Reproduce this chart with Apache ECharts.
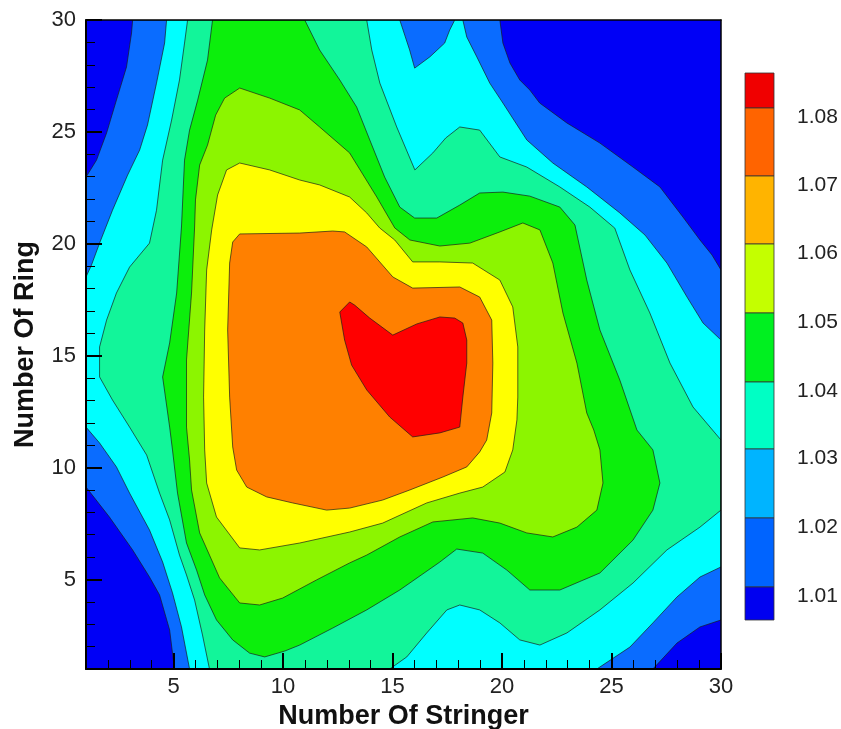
<!DOCTYPE html>
<html>
<head>
<meta charset="utf-8">
<script src="https://cdn.jsdelivr.net/npm/echarts@6/dist/echarts.min.js"></script>
<style>
  html, body { margin: 0; padding: 0; background: #fff; }
  #chart { width: 841px; height: 729px; }
</style>
</head>
<body>
<div id="chart"></div>
<script>
// contour levels, lowest to highest
const levels = [1.01, 1.02, 1.03, 1.04, 1.05, 1.06, 1.07, 1.08]

// region where the value is >= level, as [stringer, ring] outlines
const level101 = [
  [1, 9.13], [1, 22.98], [1.48, 23.74], [1.94, 24.95], [2.39, 26.42], [2.85, 27.9], [3.08, 29.42], [3.13, 30],
  [19.9, 30], [20.04, 28.97], [20.36, 28.08], [20.81, 27.32], [21.27, 26.87], [21.72, 26.29], [22.96, 25.4],
  [24.47, 24.5], [25.98, 23.43], [27.21, 22.54], [28.26, 21.2], [29.04, 20.17], [29.59, 19.5], [30, 18.83],
  [30, 3.19], [29.04, 2.88], [27.99, 2.16], [26.89, 1],
  [5.04, 1], [4.82, 2.74], [4.36, 4.31], [3.9, 5.11], [3.13, 6.32], [2.07, 7.79]
]
const level102 = [
  [1, 11.81], [1, 18.52], [1.25, 19.05], [1.62, 20.03], [2.21, 21.5], [2.9, 23.07], [3.45, 24.19], [3.81, 25.31],
  [4.22, 27.18], [4.59, 28.97], [4.68, 30],
  [15.33, 30], [15.78, 28.66], [16.01, 27.85], [16.7, 28.35], [17.38, 28.97], [17.61, 29.55], [17.84, 30],
  [18.21, 30], [18.39, 29.24], [18.85, 28.35], [19.44, 27.18], [20.04, 26.29], [21.13, 24.64], [22.32, 23.61],
  [23.87, 22.54], [25.38, 21.38], [26.53, 20.39], [27.53, 19.14], [28.45, 17.62], [29.18, 16.46], [30, 15.7],
  [30, 5.56], [29.04, 5.11], [27.99, 4.22], [26.89, 3.06], [25.84, 1.98], [24.33, 1],
  [5.73, 1], [5.36, 2.88], [4.95, 4.4], [4.5, 5.78], [3.9, 7.21], [2.99, 8.86], [2.39, 10.03], [1.62, 11.1]
]
const level103 = [
  [6.64, 1], [6.32, 2.52], [5.96, 4.08], [5.59, 5.2], [5.27, 6.09], [4.82, 7.66], [4.36, 8.86], [3.77, 10.56],
  [2.99, 11.81], [2.21, 13.02], [1.62, 14.05], [1.62, 15.39], [1.94, 16.59], [2.39, 17.8], [2.99, 18.96],
  [3.9, 20.03], [4.22, 21.5], [4.5, 23.74], [4.91, 25.53], [5.27, 27.32], [5.5, 28.97], [5.64, 30],
  [13.82, 30], [14.05, 28.66], [14.42, 27.18], [15.19, 25.22], [16.02, 23.3], [16.84, 24.06], [17.43, 24.73],
  [18.07, 25.22], [18.98, 25.08], [19.9, 23.88], [21.13, 23.43], [22.64, 22.54], [24.01, 21.64], [25.15, 20.7],
  [25.84, 18.83], [26.75, 16.91], [27.67, 14.67], [28.72, 12.71], [30, 11.23],
  [30, 8.1], [29.04, 7.34], [27.53, 6.32], [25.98, 4.84], [24.47, 3.64], [22.96, 2.61], [21.73, 2.07],
  [20.81, 2.3], [19.9, 3.06], [18.98, 3.64], [18.07, 3.86], [17.48, 3.64], [16.56, 2.61], [15.65, 1.54], [14.87, 1]
]
const level104 = [
  [6.78, 30], [6.55, 28.21], [6.1, 26.42], [5.73, 25.08], [5.5, 23.74], [5.36, 20.75], [5.14, 17.8], [4.82, 15.57],
  [4.5, 14.05], [4.82, 11.81], [4.95, 10.79], [5.18, 8.86], [5.59, 6.63], [6.05, 5.42], [6.42, 4.31], [6.96, 3.19],
  [7.7, 2.3], [8.47, 1.71], [9.16, 1.54], [10.07, 1.8], [10.76, 2.07], [12.27, 2.83], [13.82, 3.64], [15.33, 4.53],
  [17.16, 5.78], [17.93, 6.36], [19.12, 6.18], [20.22, 5.42], [21.27, 4.53], [22.64, 4.53], [24.47, 5.29],
  [25.98, 6.76], [26.89, 8.1], [27.21, 9.31], [26.89, 10.79], [26.16, 11.68], [25.38, 13.91], [24.47, 16.15],
  [23.87, 18.38], [23.33, 20.84], [22.64, 21.64], [21.27, 22.13], [20.04, 22.31], [18.98, 22.27], [18.07, 21.73],
  [17.02, 21.15], [16.01, 21.15], [15.33, 21.64], [14.64, 22.98], [13.96, 24.64], [13.36, 26.11], [12.59, 27.32],
  [11.67, 28.66], [10.99, 30]
]
const level105 = [
  [8.02, 26.96], [7.33, 26.51], [6.92, 25.75], [6.55, 24.41], [6.19, 23.52], [6.0, 21.96], [5.96, 20.75],
  [5.82, 17.8], [5.59, 14.81], [5.59, 11.81], [5.73, 10.34], [5.82, 9.0], [6.19, 7.08], [6.64, 6.09], [7.1, 5.07],
  [8.02, 3.95], [8.93, 3.86], [9.98, 4.17], [11.53, 4.98], [13.04, 5.74], [13.82, 6.09], [15.33, 6.9],
  [16.84, 7.57], [18.66, 7.75], [19.9, 7.52], [21.13, 7.08], [22.32, 6.9], [23.42, 7.34], [24.33, 8.1],
  [24.61, 9.31], [24.47, 10.79], [24.19, 11.68], [23.87, 12.44], [23.42, 14.67], [22.78, 16.91], [22.32, 19.14],
  [21.73, 20.62], [20.95, 20.93], [19.9, 20.53], [18.53, 20.03], [17.16, 19.9], [15.79, 20.17], [15.1, 20.71],
  [14.28, 22.09], [13.04, 24.06], [11.67, 25.22], [10.76, 25.98], [9.39, 26.51]
]
const level106 = [
  [8.02, 23.61], [7.42, 23.3], [7.01, 22.18], [6.74, 20.62], [6.51, 18.83], [6.42, 16.15], [6.37, 13.15],
  [6.42, 10.79], [6.51, 9.31], [6.96, 7.79], [8.02, 6.41], [8.93, 6.32], [10.76, 6.63], [13.04, 7.12],
  [14.55, 7.52], [16.56, 8.42], [18.07, 8.86], [19.12, 9.13], [20.13, 9.8], [20.49, 10.79], [20.68, 12.13],
  [20.72, 13.15], [20.72, 15.39], [20.49, 17.18], [19.9, 18.38], [18.66, 19.14], [17.16, 19.19], [15.92, 19.19],
  [15.1, 20.17], [14.41, 20.71], [13.82, 21.38], [13.04, 22.09], [11.67, 22.63], [10.76, 22.85], [9.39, 23.3]
]
const level107 = [
  [8.02, 20.44], [7.7, 20.08], [7.56, 19.14], [7.47, 16.15], [7.56, 13.15], [7.7, 10.92], [7.88, 9.89],
  [8.34, 9.13], [9.25, 8.69], [10.44, 8.42], [11.99, 8.1], [13.04, 8.19], [14.55, 8.55], [15.79, 9.0],
  [17.3, 9.58], [18.39, 10.03], [18.98, 10.7], [19.3, 11.23], [19.53, 12.44], [19.58, 14.67], [19.53, 16.59],
  [18.98, 17.62], [18.07, 18.07], [15.92, 18.02], [15.01, 18.52], [13.82, 19.86], [12.81, 20.53], [12.27, 20.57],
  [10.76, 20.48]
]
const level108 = [
  [13.04, 17.4], [12.59, 16.95], [12.81, 15.7], [13.13, 14.58], [13.82, 13.47], [14.87, 12.26], [15.92, 11.37],
  [17.16, 11.55], [18.07, 11.81], [18.21, 13.15], [18.39, 14.67], [18.39, 15.7], [18.21, 16.46], [17.84, 16.68],
  [17.16, 16.73], [16.11, 16.42], [15.01, 15.92], [13.96, 16.68], [13.27, 17.26]
]

const majorTicks = [5, 10, 15, 20, 25, 30]
const minorTicks = [1, 2, 3, 4, 5, 6, 7, 8, 9, 10, 11, 12, 13, 14, 15, 16, 17, 18, 19, 20,
  21, 22, 23, 24, 25, 26, 27, 28, 29, 30]
const legendLabels = ['1.08', '1.07', '1.06', '1.05', '1.04', '1.03', '1.02', '1.01']

const FONT = '"Liberation Sans", Arial, sans-serif'
const mapColors = ['#0a6cff', '#00ffff', '#12f59a', '#0cef0c', '#8cf500', '#ffff00', '#ff8000', '#ff0000']
const belowColor = '#0000f6'
const legendColors = ['#f00000', '#ff6400', '#ffb400', '#c4ff00', '#00f020', '#00ffc4', '#00b4ff', '#0064ff', '#0000f0']
const legendEdges = [73, 108, 176, 244, 313, 382, 449, 518, 587, 620]

const regions = [level101, level102, level103, level104, level105, level106, level107, level108]

const contourLayer = (name, points, color) => ({
  name,
  type: 'custom',
  coordinateSystem: 'cartesian2d',
  xAxisIndex: 0,
  yAxisIndex: 0,
  data: points,
  encode: { x: 0, y: 1 },
  silent: true,
  clip: true,
  renderItem: (params, api) => {
    if (params.dataIndex !== 0) return
    return {
      type: 'polygon',
      shape: { points: points.map(p => api.coord(p)) },
      style: { fill: color, stroke: 'rgba(25, 25, 25, 0.85)', lineWidth: 0.8 }
    }
  }
})

const chart = echarts.init(document.getElementById('chart'), null, { renderer: 'canvas' })

// colour bar on the right
const legendGraphics = []
legendColors.forEach((c, i) => {
  legendGraphics.push({
    type: 'rect',
    shape: { x: 745, y: legendEdges[i], width: 29, height: legendEdges[i + 1] - legendEdges[i] },
    style: { fill: c, stroke: '#333', lineWidth: 0.8 },
    z: 20
  })
})
legendLabels.forEach((t, i) => {
  legendGraphics.push({
    type: 'text',
    x: 797,
    y: legendEdges[i + 1] + 9,
    style: { text: t, fill: '#222', font: '21px ' + FONT, verticalAlign: 'middle', align: 'left' },
    z: 20
  })
})

const baseAxis = {
  type: 'value',
  min: 1,
  max: 30,
  z: 10,
  splitLine: { show: false }
}

const option = {
  animation: false,
  backgroundColor: '#ffffff',
  grid: {
    left: 86,
    right: 120,
    top: 20,
    bottom: 60,
    show: true,
    backgroundColor: belowColor,
    borderWidth: 0,
    outerBoundsMode: 'none'
  },
  xAxis: [
    {
      ...baseAxis,
      position: 'bottom',
      name: 'Number Of Stringer',
      nameLocation: 'middle',
      nameGap: 24,
      nameTextStyle: { fontFamily: FONT, fontSize: 27, fontWeight: 'bold', color: '#111' },
      axisLine: { show: true, onZero: false, lineStyle: { color: '#000', width: 2 } },
      axisTick: { show: true, inside: true, length: 16, customValues: majorTicks, lineStyle: { color: '#000', width: 2 } },
      axisLabel: { customValues: majorTicks, color: '#222', fontFamily: FONT, fontSize: 22, margin: 7 }
    },
    {
      ...baseAxis,
      position: 'bottom',
      axisLine: { show: false },
      axisTick: { show: true, inside: true, length: 9, customValues: minorTicks, lineStyle: { color: '#000', width: 1 } },
      axisLabel: { show: false }
    },
    {
      ...baseAxis,
      position: 'top',
      axisLine: { show: true, onZero: false, lineStyle: { color: '#000', width: 1.5 } },
      axisTick: { show: false },
      axisLabel: { show: false }
    }
  ],
  yAxis: [
    {
      ...baseAxis,
      position: 'left',
      name: 'Number Of Ring',
      nameLocation: 'middle',
      nameGap: 47,
      nameTextStyle: { fontFamily: FONT, fontSize: 27, fontWeight: 'bold', color: '#111' },
      axisLine: { show: true, onZero: false, lineStyle: { color: '#000', width: 2 } },
      axisTick: { show: true, inside: true, length: 16, customValues: majorTicks, lineStyle: { color: '#000', width: 2 } },
      axisLabel: { customValues: majorTicks, color: '#222', fontFamily: FONT, fontSize: 22, margin: 10 }
    },
    {
      ...baseAxis,
      position: 'left',
      axisLine: { show: false },
      axisTick: { show: true, inside: true, length: 9, customValues: minorTicks, lineStyle: { color: '#000', width: 1 } },
      axisLabel: { show: false }
    },
    {
      ...baseAxis,
      position: 'right',
      axisLine: { show: true, onZero: false, lineStyle: { color: '#000', width: 1.5 } },
      axisTick: { show: false },
      axisLabel: { show: false }
    }
  ],
  graphic: legendGraphics,
  series: regions.map((pts, i) => contourLayer('>= ' + levels[i], pts, mapColors[i]))
}

chart.setOption(option)
</script>
</body>
</html>
